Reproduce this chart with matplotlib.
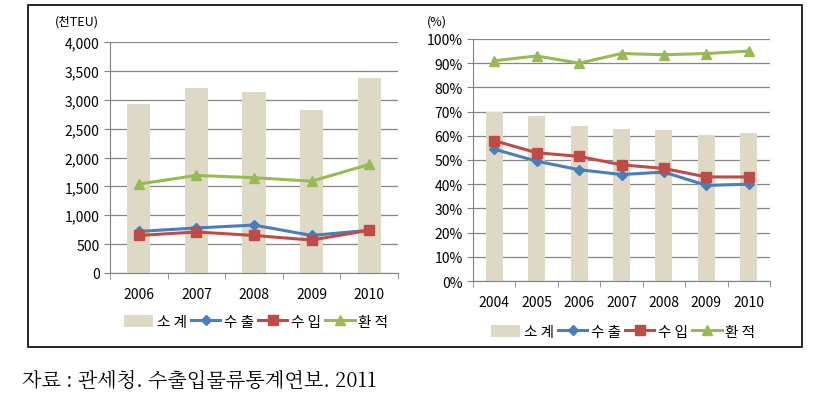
import matplotlib
matplotlib.use("Agg")
import matplotlib.pyplot as plt
from matplotlib.patches import Rectangle
from matplotlib.ticker import FuncFormatter

plt.rcParams['font.family'] = ['Noto Sans CJK KR', 'DejaVu Sans']

# left panel: thousand TEU
years_l = ["2006", "2007", "2008", "2009", "2010"]
total_l = [2930, 3200, 3130, 2830, 3370]
export_l = [720, 780, 830, 650, 740]
import_l = [650, 710, 650, 570, 740]
trans_l = [1540, 1690, 1650, 1590, 1880]

# right panel: share (%)
years_r = ["2004", "2005", "2006", "2007", "2008", "2009", "2010"]
total_r = [70, 68, 64, 63, 62.5, 60.5, 61]
export_r = [54.5, 49.5, 46, 44, 45, 39.5, 40]
import_r = [58, 53, 51.5, 48, 46.5, 43, 43]
trans_r = [91, 93, 90, 94, 93.5, 94, 95]

labels = ["소 계", "수 출", "수 입", "환 적"]
c_bar = "#DDD9C4"
c_blue = "#4A7EBB"
c_red = "#BE4B48"
c_green = "#98B954"
W, H = 836, 402

fig = plt.figure(figsize=(W / 100, H / 100), dpi=100)
fig.patches.append(Rectangle((28 / W, 1 - 348 / H), (802 - 28) / W, (348 - 6) / H,
                             transform=fig.transFigure, fill=False,
                             edgecolor="black", linewidth=1.2))


def panel(rect, years, total, exp, imp, trans, ymax, step, fmt, unit, unit_x, leg_x, leg_y):
    ax = fig.add_axes([rect[0] / W, 1 - rect[3] / H, (rect[2] - rect[0]) / W, (rect[3] - rect[1]) / H])
    x = list(range(len(years)))
    h0 = ax.bar(x, total, width=0.4, color=c_bar, label=labels[0], zorder=2)
    h1, = ax.plot(x, exp, color=c_blue, marker="D", markersize=5, linewidth=2.2, label=labels[1], zorder=3)
    h2, = ax.plot(x, imp, color=c_red, marker="s", markersize=7, linewidth=2.2, label=labels[2], zorder=3)
    h3, = ax.plot(x, trans, color=c_green, marker="^", markersize=7, linewidth=2.2, label=labels[3], zorder=3)
    ax.set_xlim(-0.5, len(years) - 0.5)
    ax.set_ylim(0, ymax)
    ax.set_yticks([i * step for i in range(int(ymax / step) + 1)])
    ax.yaxis.set_major_formatter(FuncFormatter(fmt))
    ax.set_xticks(x)
    ax.set_xticklabels(years, fontsize=10)
    ax.set_xticks([i - 0.5 for i in range(len(years) + 1)], minor=True)
    ax.tick_params(axis="x", which="major", length=0, pad=10)
    ax.tick_params(axis="x", which="minor", length=4, color="#808080")
    ax.tick_params(axis="y", length=4, color="#808080", labelsize=10)
    ax.grid(axis="y", color="#868686", linewidth=0.9, zorder=0)
    for s in ["top", "right"]:
        ax.spines[s].set_visible(False)
    ax.spines["left"].set_color("#808080")
    ax.spines["bottom"].set_color("#808080")
    fig.text(unit_x / W, 1 - 22 / H, unit, fontsize=9, ha="left", va="center")
    ax.legend([h0, h1, h2, h3], labels, loc="center", bbox_to_anchor=(leg_x / W, 1 - leg_y / H),
              bbox_transform=fig.transFigure, ncol=4, frameon=False, fontsize=10.5,
              handlelength=2.0, handleheight=0.9, columnspacing=0.3, handletextpad=0.25)
    return ax


panel((110, 43, 398, 274), years_l, total_l, export_l, import_l, trans_l,
      4000, 500, lambda v, p: f"{int(v):,}", "(천TEU)", 55, 256, 323)
panel((473, 40, 770, 282), years_r, total_r, export_r, import_r, trans_r,
      100, 10, lambda v, p: f"{int(v)}%", "(%)", 427, 623, 333)

fig.text(22 / W, 1 - 381 / H, "자료 : 관세청. 수출입물류통계연보. 2011",
         fontsize=14.5, ha="left", va="center", family=["Noto Serif CJK KR", "Noto Sans CJK KR", "DejaVu Sans"])

fig.savefig("out.png", dpi=100)
